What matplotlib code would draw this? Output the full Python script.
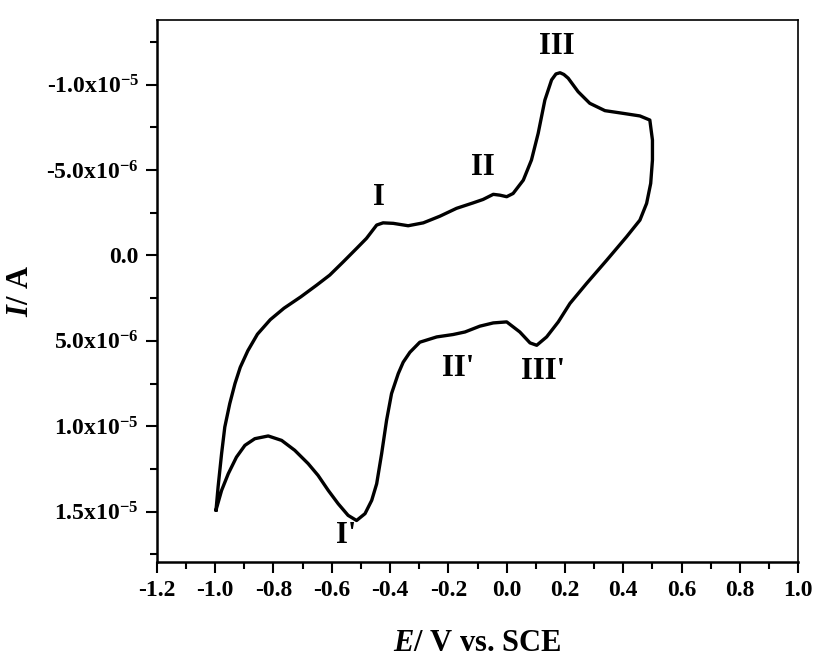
import matplotlib
matplotlib.use('Agg')
import matplotlib.pyplot as plt
from matplotlib.ticker import MultipleLocator, FixedLocator

plt.rcParams['font.family'] = 'Liberation Serif'
plt.rcParams['font.weight'] = 'bold'
plt.rcParams['mathtext.fontset'] = 'custom'
plt.rcParams['mathtext.rm'] = 'Liberation Serif:bold'
plt.rcParams['mathtext.bf'] = 'Liberation Serif:bold'
plt.rcParams['mathtext.it'] = 'Liberation Serif:bold:italic'

# potential (V vs SCE) and current (in 1e-6 A)
# forward (anodic) sweep -1.0 -> 0.5 V
E_fwd = [-0.997, -0.990, -0.978, -0.967, -0.950, -0.932, -0.914, -0.888, -0.855,
         -0.811, -0.764, -0.706, -0.652, -0.607, -0.561, -0.515, -0.481, -0.446,
         -0.424, -0.389, -0.338, -0.286, -0.229, -0.172, -0.115, -0.081, -0.046,
         -0.023, 0.000, 0.022, 0.057, 0.085, 0.108, 0.131, 0.154, 0.169, 0.183,
         0.196, 0.211, 0.245, 0.285, 0.337, 0.400, 0.457, 0.491]
I_fwd = [14.90, 13.56, 11.61, 10.05, 8.68, 7.50, 6.55, 5.58, 4.61,
         3.76, 3.09, 2.42, 1.74, 1.15, 0.38, -0.41, -1.00, -1.78,
         -1.91, -1.88, -1.74, -1.91, -2.30, -2.76, -3.08, -3.28, -3.58,
         -3.53, -3.44, -3.63, -4.41, -5.59, -7.15, -9.10, -10.28, -10.63, -10.70,
         -10.60, -10.38, -9.59, -8.91, -8.48, -8.32, -8.17, -7.93]
# reverse (cathodic) sweep 0.5 -> -1.0 V
E_rev = [0.500, 0.500, 0.494, 0.480, 0.457, 0.411, 0.343, 0.274, 0.217, 0.177,
         0.137, 0.103, 0.080, 0.045, 0.000, -0.046, -0.092, -0.143, -0.184,
         -0.240, -0.298, -0.332, -0.355, -0.372, -0.395, -0.412, -0.429, -0.446,
         -0.463, -0.486, -0.515, -0.544, -0.578, -0.612, -0.647, -0.681, -0.727,
         -0.772, -0.818, -0.864, -0.898, -0.927, -0.955, -0.978, -0.997]
I_rev = [-6.76, -5.59, -4.22, -3.05, -2.07, -1.09, 0.28, 1.64, 2.81, 3.89,
         4.77, 5.26, 5.12, 4.48, 3.89, 3.95, 4.14, 4.48, 4.63,
         4.77, 5.08, 5.67, 6.25, 6.92, 8.09, 9.65, 11.61, 13.37,
         14.34, 15.12, 15.52, 15.22, 14.54, 13.76, 12.88, 12.19, 11.41,
         10.83, 10.57, 10.73, 11.12, 11.81, 12.78, 13.76, 14.90]
scale = 1e-6

peak_names = ['I', 'II', 'III', "I'", "II'", "III'"]
peak_E = [-0.438, -0.082, 0.171, -0.549, -0.166, 0.125]
peak_I = [-3.42, -5.18, -12.23, 16.4, 6.62, 6.82]

ytick_vals = [-1.0e-5, -5.0e-6, 0.0, 5.0e-6, 1.0e-5, 1.5e-5]
ytick_labels = [r'-1.0x10$^{-5}$', r'-5.0x10$^{-6}$', '0.0',
                r'5.0x10$^{-6}$', r'1.0x10$^{-5}$', r'1.5x10$^{-5}$']
xtick_vals = [-1.2, -1.0, -0.8, -0.6, -0.4, -0.2, 0.0, 0.2, 0.4, 0.6, 0.8, 1.0]

fig = plt.figure(figsize=(8.17, 6.6), dpi=100)
ax = fig.add_axes([0.192, 0.1485, 0.785, 0.8215])

E_all = E_fwd + E_rev
I_all = [v * scale for v in I_fwd + I_rev]
ax.plot(E_all, I_all, color='black', lw=2.4, solid_joinstyle='round')

for name, e, i in zip(peak_names, peak_E, peak_I):
    ax.text(e, i * scale, name, fontsize=22, fontweight='bold',
            ha='center', va='center')

ax.set_xlim(-1.2, 1.0)
ax.set_ylim(1.795e-5, -1.38e-5)

ax.xaxis.set_major_locator(FixedLocator(xtick_vals))
ax.set_xticklabels(['%.1f' % v for v in xtick_vals])
ax.xaxis.set_minor_locator(MultipleLocator(0.1))
ax.yaxis.set_major_locator(FixedLocator(ytick_vals))
ax.set_yticklabels(ytick_labels)
ax.yaxis.set_minor_locator(MultipleLocator(2.5e-6))

ax.tick_params(which='major', direction='out', length=8, width=1.5,
               labelsize=17, pad=5)
ax.tick_params(which='minor', direction='out', length=5, width=1.5)
ax.tick_params(top=False, right=False, which='both')
for lab in ax.get_xticklabels() + ax.get_yticklabels():
    lab.set_fontweight('bold')

for s in ['left', 'bottom']:
    ax.spines[s].set_linewidth(1.8)
for s in ['top', 'right']:
    ax.spines[s].set_linewidth(1.2)

ax.set_xlabel(r'$\mathit{E}$/ V vs. SCE', fontsize=22, fontweight='bold', labelpad=20)
ax.set_ylabel(r'$\mathit{I}$/ A', fontsize=22, fontweight='bold', labelpad=8)

fig.savefig('out.png', dpi=100)
